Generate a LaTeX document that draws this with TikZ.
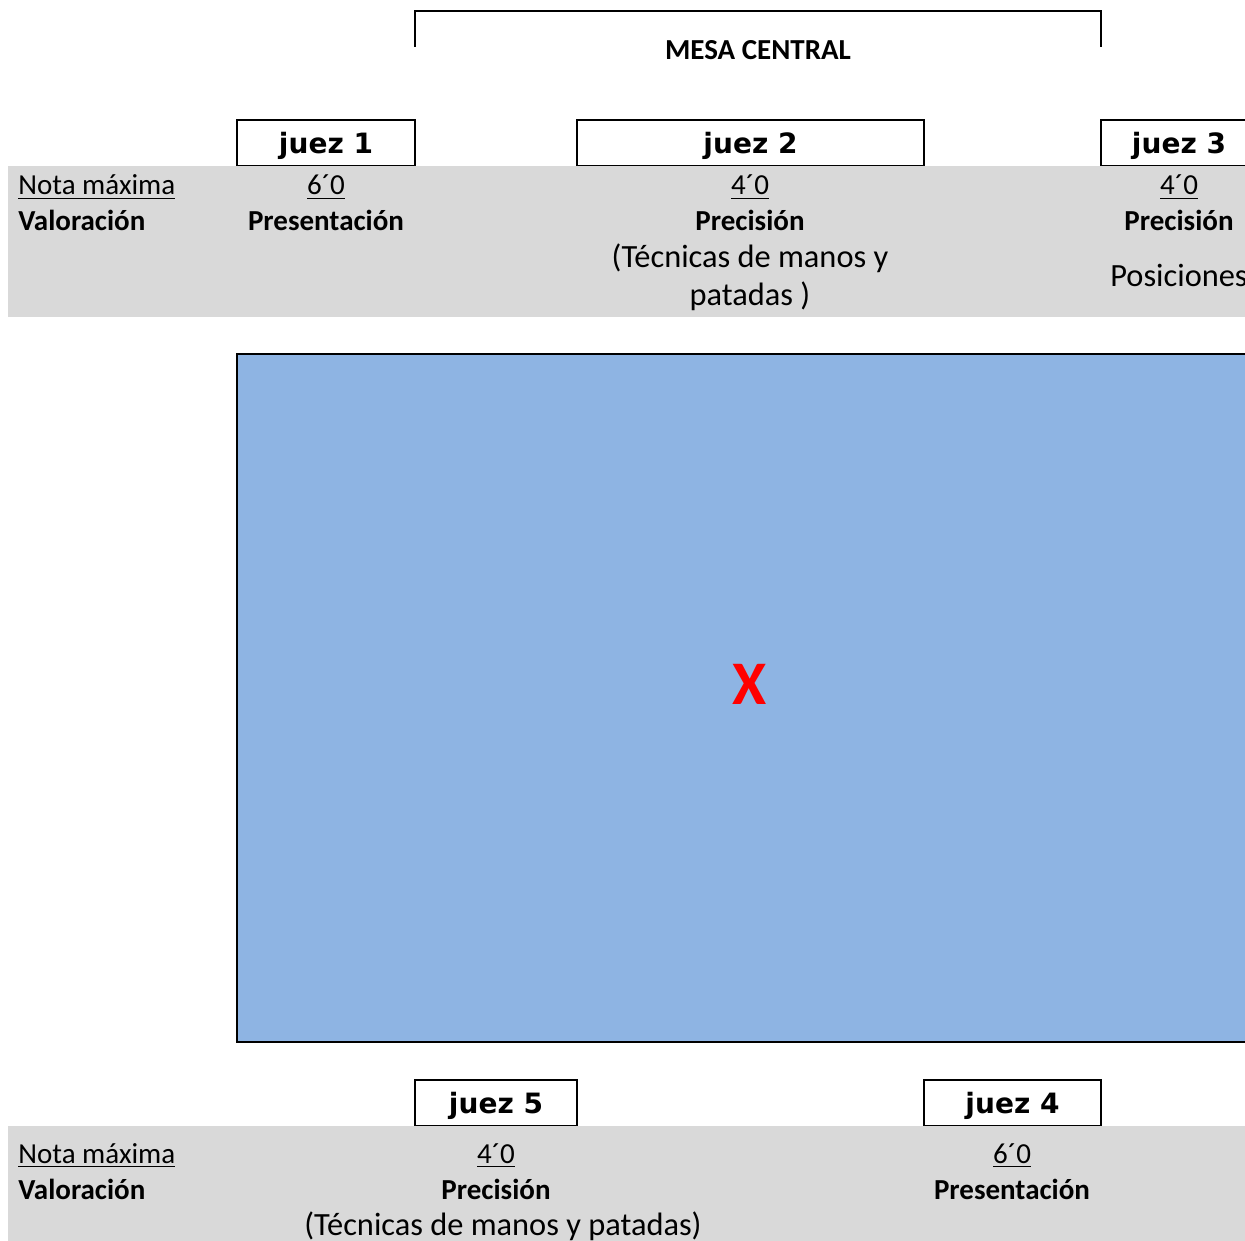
\documentclass[tikz,border=0pt]{standalone}
\usepackage{fontspec}
\setmainfont{Carlito}
\newfontfamily\juezfont{DejaVu Sans}
\definecolor{bandgray}{RGB}{217,217,217}
\definecolor{campoblue}{RGB}{142,180,227}
\tikzset{
	juezstyle/.style={rectangle,draw=black,line width=1pt,fill=white,inner sep=0pt,minimum height=23pt,text height=12pt,text depth=1.7pt,font=\fontsize{14}{16}\juezfont\bfseries},
	textstyle/.style={anchor=base,inner sep=0pt,font=\fontsize{14.5}{18}\selectfont},
	bigtextstyle/.style={anchor=base,inner sep=0pt,font=\fontsize{16.2}{19}\selectfont},
	boldstyle/.style={anchor=base,inner sep=0pt,font=\fontsize{14.5}{18}\selectfont\bfseries},
	bandstyle/.style={fill=bandgray,draw=none}
}
\begin{document}
\begin{tikzpicture}[x=0.5pt,y=-0.5pt]
	\useasboundingbox (0,0) rectangle (1245,1240);
	\clip (0,0) rectangle (1245,1240);
	% mesa central
	\draw[line width=1pt] (415,47) |- (1101,11) -- (1101,47);
	\node[boldstyle] (mesa) at (758,60) {MESA CENTRAL};
	% jueces arriba
	\node[juezstyle,minimum width=89pt] (j1) at (326,143) {juez 1};
	\node[juezstyle,minimum width=173.5pt] (j2) at (750.5,143) {juez 2};
	\node[juezstyle,minimum width=78pt] (j3) at (1179,143) {juez 3};
	\fill[bandgray] (8,166) rectangle (1260,317);
	\node[textstyle,anchor=base west] (nota1) at (18,195) {\underline{Nota máxima}};
	\node[boldstyle,anchor=base west] (val1) at (18,231) {Valoración};
	\node[textstyle] (n1) at (326,195) {\underline{6´0}};
	\node[boldstyle] (v1) at (326,231) {Presentación};
	\node[textstyle] (n2) at (750,195) {\underline{4´0}};
	\node[boldstyle] (v2) at (750,231) {Precisión};
	\node[bigtextstyle] (t2) at (750,268) {(Técnicas de manos y};
	\node[bigtextstyle] (p2) at (750,306) {patadas )};
	\node[textstyle] (n3) at (1179,195) {\underline{4´0}};
	\node[boldstyle] (v3) at (1179,231) {Precisión};
	\node[bigtextstyle] (s3) at (1179,287) {Posiciones};
	% tapiz
	\draw[line width=1pt,fill=campoblue] (237,354) rectangle (1265,1042);
	\node[text=red,font=\fontsize{31}{31}\selectfont\bfseries] (x) at (750,684) {X};
	% jueces abajo
	\node[juezstyle,minimum width=81pt] (j5) at (496,1103) {juez 5};
	\node[juezstyle,minimum width=88.5pt] (j4) at (1012.5,1103) {juez 4};
	\fill[bandgray] (8,1126) rectangle (1260,1245);
	\node[textstyle,anchor=base west] (nota2) at (18,1163) {\underline{Nota máxima}};
	\node[boldstyle,anchor=base west] (val2) at (18,1199) {Valoración};
	\node[textstyle] (n5) at (496,1163) {\underline{4´0}};
	\node[boldstyle] (v5) at (496,1199) {Precisión};
	\node[bigtextstyle] (t5) at (503,1235) {(Técnicas de manos y patadas)};
	\node[textstyle] (n4) at (1012,1163) {\underline{6´0}};
	\node[boldstyle] (v4) at (1012,1199) {Presentación};
\end{tikzpicture}
\end{document}
